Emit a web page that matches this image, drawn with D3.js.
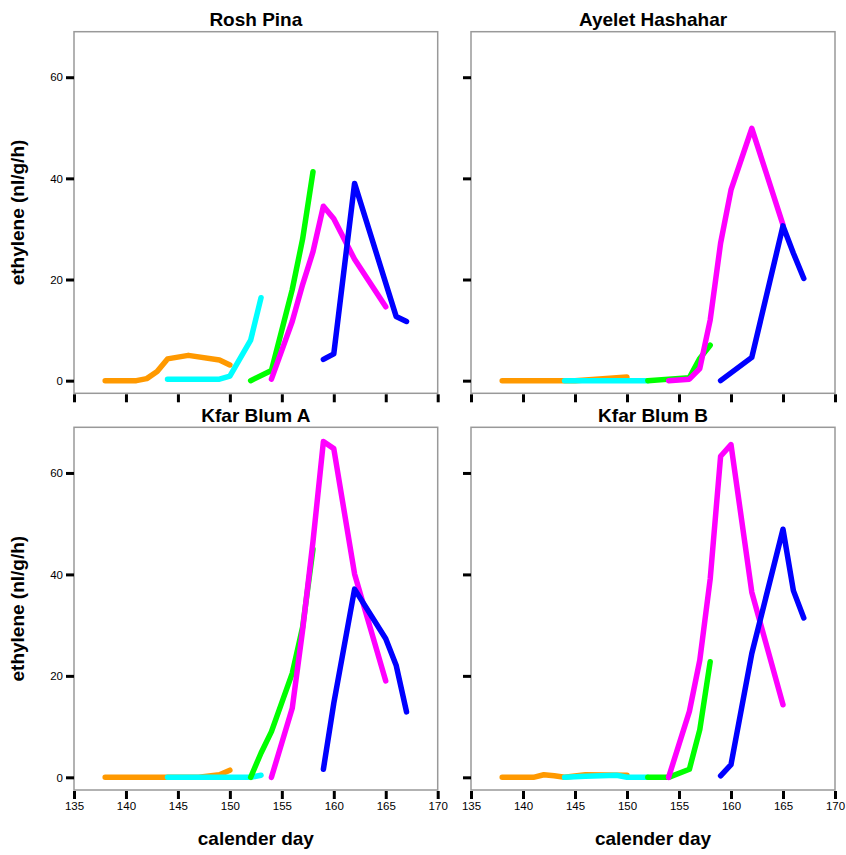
<!DOCTYPE html>
<html>
<head>
<meta charset="utf-8">
<script src="https://cdn.jsdelivr.net/npm/d3@7"></script>
<style>
  body { margin: 0; background: #fff; }
  svg { display: block; font-family: "Liberation Sans", Arial, sans-serif; }
</style>
</head>
<body>
<svg id="chart" width="846" height="855"></svg>
<script>
// ---- data ----
const panelTitles = ["Rosh Pina", "Ayelet Hashahar", "Kfar Blum A", "Kfar Blum B"];
const seriesColors = ["#ff9900", "#00ffff", "#00ff00", "#ff00ff", "#0000ff"];
const xTickValues = [135, 140, 145, 150, 155, 160, 165, 170];
const yTickValues = [0, 20, 40, 60];

// Rosh Pina
const rpOrange  = [[138,0],[141,0],[142,0.4],[143,1.8],[144,4.3],[146,5],[149,4.1],[150,3.1]];
const rpCyan    = [[144,0.3],[149,0.3],[150,0.9],[152,8],[153,16.4]];
const rpGreen   = [[152,0],[154,2],[156,18],[157,28],[158,41.3]];
const rpMagenta = [[154,0.3],[156,11.7],[157,19],[158,25.5],[159,34.5],[160,32],[162,24],[165,14.6]];
const rpBlue    = [[159,4.2],[160,5.3],[162,39],[166,12.7],[167,11.7]];

// Ayelet Hashahar
const ahOrange  = [[138,0],[145,0],[150,0.7]];
const ahCyan    = [[144,0],[152,0]];
const ahGreen   = [[152,0],[156,0.6],[157,4.4],[158,7]];
const ahMagenta = [[154,0],[156,0.3],[157,2.4],[158,12],[159,27.2],[160,37.7],[162,49.9],[165,30.8]];
const ahBlue    = [[159,0],[162,4.6],[165,30.6],[166,25.2],[167,20.2]];

// Kfar Blum A
const kaOrange  = [[138,0],[147,0],[149,0.5],[150,1.4]];
const kaCyan    = [[144,0],[152,0],[153,0.4]];
const kaGreen   = [[152,0],[153,4.8],[154,9],[156,20.5],[157,29.6],[158,45]];
const kaMagenta = [[154,0],[156,13.6],[157,29],[158,46.5],[159,66.2],[160,64.8],[162,40.1],[165,19]];
const kaBlue    = [[159,1.6],[160,14.6],[162,37.1],[165,27.3],[166,22.1],[167,12.9]];

// Kfar Blum B
const kbOrange  = [[138,0],[141,0],[142,0.5],[143,0.3],[144,0],[146,0.5],[150,0.4]];
const kbCyan    = [[144,0],[146,0.2],[149,0.4],[150,0],[152,0]];
const kbGreen   = [[152,0],[154,0],[156,1.6],[157,9.4],[158,22.8]];
const kbMagenta = [[154,0],[156,13],[157,23.1],[158,39.1],[159,63.3],[160,65.6],[162,36.5],[165,14.3]];
const kbBlue    = [[159,0.3],[160,2.5],[162,24.4],[165,48.9],[166,36.8],[167,31.4]];

const panelSeries = [
  [rpOrange, rpCyan, rpGreen, rpMagenta, rpBlue],
  [ahOrange, ahCyan, ahGreen, ahMagenta, ahBlue],
  [kaOrange, kaCyan, kaGreen, kaMagenta, kaBlue],
  [kbOrange, kbCyan, kbGreen, kbMagenta, kbBlue]
];

// ---- layout ----
const svg = d3.select("#chart");
const colX = [[74, 437.7], [471, 835]];
const rowY = [[31.7, 393.3], [427.3, 790]];
const xDomain = [135, 170];
const yDomain = [-2.5, 69];

panelSeries.forEach((series, i) => {
  const col = i % 2, row = Math.floor(i / 2);
  const [x0, x1] = colX[col];
  const [y0, y1] = rowY[row];
  const x = d3.scaleLinear().domain(xDomain).range([x0, x1]);
  const y = d3.scaleLinear().domain(yDomain).range([y1, y0]);
  const g = svg.append("g");

  // frame
  g.append("rect")
    .attr("x", x0).attr("y", y0)
    .attr("width", x1 - x0).attr("height", y1 - y0)
    .attr("fill", "none").attr("stroke", "#999").attr("stroke-width", 1.5);

  // title
  g.append("text")
    .attr("x", (x0 + x1) / 2).attr("y", y0 - 5.5)
    .attr("text-anchor", "middle")
    .attr("font-size", 19).attr("font-weight", "bold")
    .text(panelTitles[i]);

  // lines
  const line = d3.line().x(d => x(d[0])).y(d => y(d[1]));
  series.forEach((data, k) => {
    g.append("path")
      .datum(data)
      .attr("d", line)
      .attr("fill", "none")
      .attr("stroke", seriesColors[k])
      .attr("stroke-width", 5.5)
      .attr("stroke-linecap", "round")
      .attr("stroke-linejoin", "round");
  });

  // y axis
  const yAxis = d3.axisLeft(y).tickValues(yTickValues).tickSize(8).tickSizeOuter(0).tickPadding(3)
    .tickFormat(col === 0 ? d3.format("d") : () => "");
  const ya = g.append("g").attr("transform", `translate(${x0},0)`).call(yAxis);
  ya.select(".domain").remove();
  ya.selectAll(".tick line").attr("stroke", "#000").attr("stroke-width", 3);
  ya.selectAll(".tick text").attr("font-size", 11.5).attr("fill", "#000")
    .attr("font-family", "'Liberation Sans', Arial, sans-serif");

  // x axis
  const xAxis = d3.axisBottom(x).tickValues(xTickValues).tickSize(8).tickSizeOuter(0).tickPadding(3)
    .tickFormat(row === 1 ? d3.format("d") : () => "");
  const xa = g.append("g").attr("transform", `translate(0,${y1 + 1})`).call(xAxis);
  xa.select(".domain").remove();
  xa.selectAll(".tick line").attr("stroke", "#000").attr("stroke-width", 3);
  xa.selectAll(".tick text").attr("font-size", 11.5).attr("fill", "#000")
    .attr("font-family", "'Liberation Sans', Arial, sans-serif");

  // axis titles
  if (col === 0) {
    g.append("text")
      .attr("transform", `translate(24,${(y0 + y1) / 2}) rotate(-90)`)
      .attr("text-anchor", "middle")
      .attr("font-size", 19).attr("font-weight", "bold")
      .text("ethylene (nl/g/h)");
  }
  if (row === 1) {
    g.append("text")
      .attr("x", (x0 + x1) / 2).attr("y", 845)
      .attr("text-anchor", "middle")
      .attr("font-size", 19).attr("font-weight", "bold")
      .text("calender day");
  }
});
</script>
</body>
</html>
